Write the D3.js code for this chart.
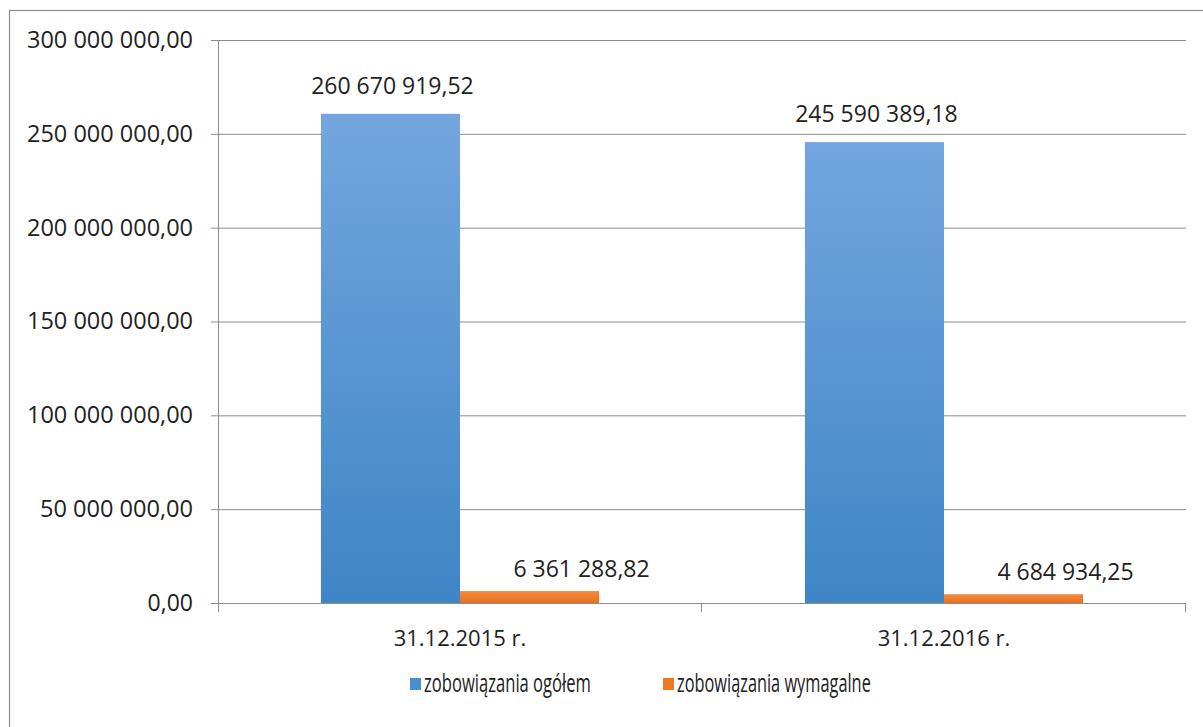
<!DOCTYPE html>
<html lang="pl">
<head>
<meta charset="UTF-8">
<title>Zobowiązania</title>
<script src="https://d3js.org/d3.v7.min.js"></script>
<style>
  body { margin: 0; background: #fff; }
  svg text { font-family: "Open Sans", "DejaVu Sans", sans-serif; fill: #222; }
</style>
</head>
<body>
<svg id="chart" width="1203" height="727"></svg>
<script>
// data
const categories = ["31.12.2015 r.", "31.12.2016 r."];
const seriesNames = ["zobowiązania ogółem", "zobowiązania wymagalne"];
const totalValues = [260670919.52, 245590389.18];
const dueValues = [6361288.82, 4684934.25];
const yTicks = [0, 50000000, 100000000, 150000000, 200000000, 250000000, 300000000];

const svg = d3.select("#chart");
const margin = { left: 218, top: 40, right: 1186, bottom: 603 };

// frame round the chart
svg.append("rect")
    .attr("x", 9.5).attr("y", 10.5)
    .attr("width", 1210).attr("height", 740)
    .attr("fill", "none").attr("stroke", "#8c8c8c").attr("stroke-width", 1.2);

const x0 = d3.scaleBand().domain(categories).range([margin.left, margin.right]).paddingInner(0).paddingOuter(0);
const x1 = d3.scaleBand().domain(seriesNames).range([0, x0.bandwidth()]).paddingInner(0).paddingOuter(0.74);
const y = d3.scaleLinear().domain([0, 300000000]).range([margin.bottom, margin.top]);

// 260 670 919,52 style
function fmt(v) {
    const parts = v.toFixed(2).split(".");
    const int = parts[0].replace(/\B(?=(\d{3})+(?!\d))/g, " ");
    return int + "," + parts[1];
}

// gradients
const defs = svg.append("defs");
const gBlue = defs.append("linearGradient").attr("id", "gBlue").attr("x1", 0).attr("y1", 0).attr("x2", 0).attr("y2", 1);
gBlue.append("stop").attr("offset", "0%").attr("stop-color", "#73a6de");
gBlue.append("stop").attr("offset", "100%").attr("stop-color", "#3f85c6");
const gOrange = defs.append("linearGradient").attr("id", "gOrange").attr("x1", 0).attr("y1", 0).attr("x2", 0).attr("y2", 1);
gOrange.append("stop").attr("offset", "0%").attr("stop-color", "#f58a3e");
gOrange.append("stop").attr("offset", "100%").attr("stop-color", "#e8701f");
const fills = ["url(#gBlue)", "url(#gOrange)"];
const legendColors = ["#4a8fd0", "#ee7727"];

// gridlines + y axis
const yAxis = d3.axisLeft(y).tickValues(yTicks).tickSize(-(margin.right - margin.left + 7)).tickFormat(fmt);
const gy = svg.append("g").attr("transform", `translate(${margin.left - 7},0)`).call(yAxis);
gy.select(".domain").remove();
gy.selectAll(".tick line").attr("stroke", "#8c8c8c").attr("stroke-width", 1);
gy.selectAll(".tick text").attr("x", -18).attr("dy", "0.32em").style("font-size", "23px")
    .attr("textLength", 166).attr("lengthAdjust", "spacingAndGlyphs");
gy.selectAll(".tick text").filter(d => d === 0).attr("textLength", null);
gy.selectAll(".tick text").filter(d => d > 0 && d < 100000000).attr("textLength", 153);

// vertical axis line
svg.append("line")
    .attr("x1", margin.left + 0.5).attr("x2", margin.left + 0.5)
    .attr("y1", margin.top).attr("y2", margin.bottom + 9)
    .attr("stroke", "#8c8c8c");

// category ticks
const catEdges = categories.map(c => x0(c) + x0.bandwidth());
svg.selectAll(".cattick").data(catEdges).enter().append("line")
    .attr("x1", d => d - 0.5).attr("x2", d => d - 0.5)
    .attr("y1", margin.bottom).attr("y2", margin.bottom + 9)
    .attr("stroke", "#8c8c8c");

// bars
const rows = categories.map((c, i) => ({ cat: c, vals: [totalValues[i], dueValues[i]] }));
const groups = svg.selectAll(".grp").data(rows).enter().append("g")
    .attr("transform", d => `translate(${x0(d.cat)},0)`);

groups.selectAll("rect").data(d => d.vals.map((v, k) => ({ v: v, k: k }))).enter().append("rect")
    .attr("x", d => x1(seriesNames[d.k]))
    .attr("width", x1.bandwidth())
    .attr("y", d => y(d.v))
    .attr("height", d => y(0) - y(d.v))
    .attr("fill", d => fills[d.k]);

groups.selectAll(".lbl").data(d => d.vals.map((v, k) => ({ v: v, k: k }))).enter().append("text")
    .attr("x", d => x1(seriesNames[d.k]) + x1.bandwidth() / 2 + (d.k === 1 ? 52 : 2))
    .attr("y", d => y(d.v) - (d.k === 1 ? 14 : 20))
    .attr("text-anchor", "middle")
    .style("font-size", "23px")
    .text(d => fmt(d.v));

// x axis line
svg.append("line")
    .attr("x1", margin.left).attr("x2", margin.right)
    .attr("y1", margin.bottom + 0.5).attr("y2", margin.bottom + 0.5)
    .attr("stroke", "#8c8c8c");

svg.selectAll(".catlbl").data(categories).enter().append("text")
    .attr("x", d => x0(d) + x0.bandwidth() / 2)
    .attr("y", 646)
    .attr("text-anchor", "middle")
    .style("font-size", "22px")
    .text(d => d);

// legend (narrow font look: squeeze text horizontally)
const legendX = [410, 663];
const legendW = [167, 194];
const lg = svg.selectAll(".leg").data(seriesNames).enter().append("g")
    .attr("transform", (d, i) => `translate(${legendX[i]},678)`);
lg.append("rect").attr("width", 11).attr("height", 12).attr("fill", (d, i) => legendColors[i]);
lg.append("text")
    .style("font-size", "25px")
    .text(d => d)
    .each(function (d, i) {
        const w = this.getComputedTextLength();
        d3.select(this).attr("transform", `translate(14,14) scale(${legendW[i] / w},1)`);
    });
</script>
</body>
</html>
